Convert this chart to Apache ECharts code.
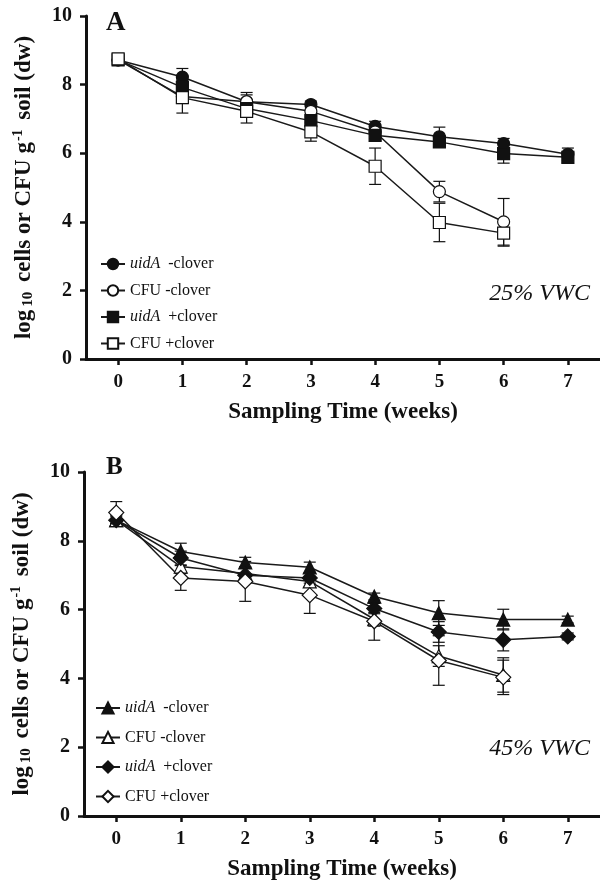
<!DOCTYPE html>
<html><head><meta charset="utf-8">
<script src="https://cdn.jsdelivr.net/npm/echarts@6/dist/echarts.min.js"></script>
<style>html,body{margin:0;padding:0;background:#fff}#c{width:600px;height:880px}</style>
</head><body><div id="c"></div>
<script>
const weeks = [0, 1, 2, 3, 4, 5, 6, 7];
const yTicks = [0, 2, 4, 6, 8, 10];
const seriesNames = ['uidA -clover', 'CFU -clover', 'uidA +clover', 'CFU +clover'];

// Panel A (25% VWC)
const A_uidA_minus     = [8.72, 8.22, 7.50, 7.42, 6.78, 6.48, 6.28, 5.97];
const A_uidA_minus_err = [0.15, 0.25, 0.20, 0.10, 0.15, 0.28, 0.15, 0.18];
const A_CFU_minus      = [8.72, 7.65, 7.50, 7.22, 6.62, 4.88, 4.00, null];
const A_CFU_minus_err  = [0.10, 0.20, 0.27, 0.15, 0.20, 0.30, 0.68, null];
const A_uidA_plus      = [8.72, 7.92, 7.30, 6.95, 6.52, 6.33, 5.99, 5.88];
const A_uidA_plus_err  = [0.10, 0.20, 0.20, 0.15, 0.15, 0.15, 0.28, 0.15];
const A_CFU_plus       = [8.75, 7.62, 7.22, 6.62, 5.62, 3.98, 3.67, null];
const A_CFU_plus_err   = [0.10, 0.45, 0.34, 0.27, 0.53, 0.56, 0.38, null];

// Panel B (45% VWC)
const B_uidA_minus     = [8.60, 7.69, 7.37, 7.23, 6.38, 5.90, 5.71, 5.71];
const B_uidA_minus_err = [0.15, 0.24, 0.15, 0.15, 0.10, 0.36, 0.30, 0.10];
const B_CFU_minus      = [8.60, 7.25, 7.05, 6.82, 5.72, 4.65, 4.10, null];
const B_CFU_minus_err  = [0.15, 0.20, 0.20, 0.15, 0.20, 0.30, 0.50, null];
const B_uidA_plus      = [8.60, 7.50, 7.00, 6.92, 6.03, 5.35, 5.12, 5.22];
const B_uidA_plus_err  = [0.10, 0.20, 0.20, 0.15, 0.15, 0.30, 0.32, 0.10];
const B_CFU_plus       = [8.82, 6.92, 6.82, 6.42, 5.66, 4.52, 4.03, null];
const B_CFU_plus_err   = [0.32, 0.36, 0.58, 0.53, 0.55, 0.72, 0.50, null];

const serif = '"Liberation Serif", "DejaVu Serif", serif';

function pts(vals) { return weeks.map((w, i) => vals[i] == null ? null : [w, vals[i]]).filter(Boolean); }
function errs(vals, e) { return weeks.map((w, i) => vals[i] == null ? null : [w, vals[i] - e[i], vals[i] + e[i]]).filter(Boolean); }

function errSeries(idx, vals, e) {
  return {
    type: 'custom', xAxisIndex: idx, yAxisIndex: idx, z: 1, silent: true,
    data: errs(vals, e),
    renderItem: function (params, api) {
      const x = api.value(0);
      const lo = api.coord([x, api.value(1)]);
      const hi = api.coord([x, api.value(2)]);
      const hw = 6;
      const st = { stroke: '#111', lineWidth: 1.2 };
      return { type: 'group', children: [
        { type: 'line', shape: { x1: lo[0], y1: lo[1], x2: hi[0], y2: hi[1] }, style: st },
        { type: 'line', shape: { x1: lo[0] - hw, y1: lo[1], x2: lo[0] + hw, y2: lo[1] }, style: st },
        { type: 'line', shape: { x1: hi[0] - hw, y1: hi[1], x2: hi[0] + hw, y2: hi[1] }, style: st }
      ]};
    }
  };
}
function lineSeries(idx, name, vals, symbol, filled, size) {
  return {
    type: 'line', name: name, xAxisIndex: idx, yAxisIndex: idx, z: 3,
    data: pts(vals), symbol: symbol, symbolSize: size, showAllSymbol: true,
    lineStyle: { color: '#1a1a1a', width: 1.5 },
    itemStyle: { color: filled ? '#111' : '#fff', borderColor: '#111', borderWidth: 1.2, opacity: 1 },
    emphasis: { disabled: true }, animation: false
  };
}

const chart = echarts.init(document.getElementById('c'), null, { renderer: 'canvas' });

function xAxis(idx) {
  return {
    type: 'value', gridIndex: idx, min: -0.5, max: 7.5, interval: 1,
    name: 'Sampling Time (weeks)', nameLocation: 'middle', nameGap: 42,
    nameTextStyle: { fontFamily: serif, fontWeight: 'bold', fontSize: 23, color: '#111', verticalAlign: 'top' },
    axisLine: { onZero: false, lineStyle: { color: '#111', width: 3 } },
    axisTick: { show: true, length: 6, lineStyle: { color: '#111', width: 2.5 }, customValues: weeks },
    axisLabel: { fontFamily: serif, fontWeight: 'bold', fontSize: 19, color: '#111', margin: 14,
      customValues: weeks, formatter: v => String(v) },
    splitLine: { show: false }
  };
}
function yAxis(idx) {
  return {
    type: 'value', gridIndex: idx, min: 0, max: 10, interval: 2,
    name: 'log{sub|10} cells or CFU g{sup|-1} soil (dw)', nameLocation: 'middle', nameGap: 49, nameRotate: 90,
    nameTextStyle: { fontFamily: serif, fontWeight: 'bold', fontSize: 23, color: '#111',
      rich: {
        sub: { fontFamily: serif, fontWeight: 'bold', fontSize: 15, color: '#111', padding: [9, 4, 0, 3] },
        sup: { fontFamily: serif, fontWeight: 'bold', fontSize: 14, color: '#111', padding: [0, 4, 12, 1] }
      } },
    axisLine: { show: true, onZero: false, lineStyle: { color: '#111', width: 3 } },
    axisTick: { show: true, length: 6, lineStyle: { color: '#111', width: 2.5 } },
    axisLabel: { fontFamily: serif, fontWeight: 'bold', fontSize: 20, color: '#111', margin: 14,
      customValues: yTicks },
    splitLine: { show: false }
  };
}

const legendRich = {
  i: { fontFamily: serif, fontStyle: 'italic', fontSize: 16, color: '#111' },
  n: { fontFamily: serif, fontSize: 16, color: '#111' }
};
function legendFmt(name) {
  const n = name.slice(2);
  if (n.startsWith('uidA')) return '{i|uidA}{n| ' + n.slice(4) + '}';
  return '{n|' + n + '}';
}

const option = {
  animation: false,
  backgroundColor: '#fff',
  grid: [
    { left: 86, right: 0, top: 16, height: 343, outerBoundsMode: 'none', containLabel: false },
    { left: 84, right: 0, top: 472, height: 344, outerBoundsMode: 'none', containLabel: false }
  ],
  xAxis: [xAxis(0), xAxis(1)],
  yAxis: [yAxis(0), yAxis(1)],
  legend: [
    { left: 95, top: 251, orient: 'vertical', itemGap: 10.5, itemWidth: 24, itemHeight: 13,
      data: seriesNames.map(n => 'A|' + n), formatter: legendFmt,
      textStyle: { rich: legendRich }, selectedMode: false },
    { left: 90, top: 695, orient: 'vertical', itemGap: 13.5, itemWidth: 24, itemHeight: 14,
      data: seriesNames.map(n => 'B|' + n), formatter: legendFmt,
      textStyle: { rich: legendRich }, selectedMode: false }
  ],
  graphic: [
    { type: 'text', left: 106, top: 10, style: { text: 'A', font: 'bold 27px ' + serif, fill: '#111' } },
    { type: 'text', left: 106, top: 455, style: { text: 'B', font: 'bold 25px ' + serif, fill: '#111' } },
    { type: 'text', right: 10, top: 282, style: { text: '25% VWC', font: 'italic 24px ' + serif, fill: '#111' } },
    { type: 'text', right: 10, top: 737, style: { text: '45% VWC', font: 'italic 24px ' + serif, fill: '#111' } }
  ],
  series: [
    errSeries(0, A_uidA_minus, A_uidA_minus_err),
    errSeries(0, A_CFU_minus, A_CFU_minus_err),
    errSeries(0, A_uidA_plus, A_uidA_plus_err),
    errSeries(0, A_CFU_plus, A_CFU_plus_err),
    lineSeries(0, 'A|' + seriesNames[0], A_uidA_minus, 'circle', true, 12),
    lineSeries(0, 'A|' + seriesNames[1], A_CFU_minus, 'circle', false, 12),
    lineSeries(0, 'A|' + seriesNames[2], A_uidA_plus, 'rect', true, 12),
    lineSeries(0, 'A|' + seriesNames[3], A_CFU_plus, 'rect', false, 12),
    errSeries(1, B_uidA_minus, B_uidA_minus_err),
    errSeries(1, B_CFU_minus, B_CFU_minus_err),
    errSeries(1, B_uidA_plus, B_uidA_plus_err),
    errSeries(1, B_CFU_plus, B_CFU_plus_err),
    lineSeries(1, 'B|' + seriesNames[0], B_uidA_minus, 'triangle', true, 13),
    lineSeries(1, 'B|' + seriesNames[1], B_CFU_minus, 'triangle', false, 13),
    lineSeries(1, 'B|' + seriesNames[2], B_uidA_plus, 'diamond', true, 15),
    lineSeries(1, 'B|' + seriesNames[3], B_CFU_plus, 'diamond', false, 15)
  ]
};
chart.setOption(option);
</script>
</body></html>
